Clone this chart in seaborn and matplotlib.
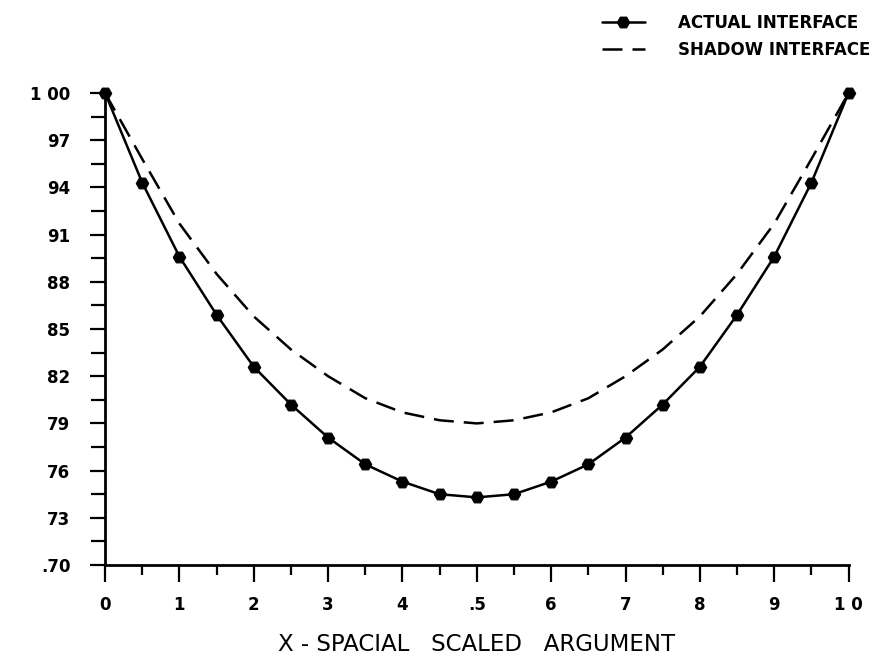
import numpy as np
import pandas as pd
import seaborn as sns
import matplotlib.pyplot as plt

# x positions (scaled argument) and the two interface curves
x_vals = [0.00, 0.05, 0.10, 0.15, 0.20, 0.25, 0.30, 0.35, 0.40, 0.45, 0.50,
          0.55, 0.60, 0.65, 0.70, 0.75, 0.80, 0.85, 0.90, 0.95, 1.00]
actual = [1.000, 0.943, 0.896, 0.859, 0.826, 0.802, 0.781, 0.764, 0.753, 0.745, 0.743,
          0.745, 0.753, 0.764, 0.781, 0.802, 0.826, 0.859, 0.896, 0.943, 1.000]
shadow = [1.000, 0.958, 0.917, 0.885, 0.858, 0.837, 0.820, 0.806, 0.797, 0.792, 0.790,
          0.792, 0.797, 0.806, 0.820, 0.837, 0.858, 0.885, 0.917, 0.958, 1.000]

y_ticks = [0.70, 0.73, 0.76, 0.79, 0.82, 0.85, 0.88, 0.91, 0.94, 0.97, 1.00]
y_labels = [".70", "73", "76", "79", "82", "85", "88", "91", "94", "97", "1 00"]
x_ticks = [0.0, 0.1, 0.2, 0.3, 0.4, 0.5, 0.6, 0.7, 0.8, 0.9, 1.0]
x_labels = ["0", "1", "2", "3", "4", ".5", "6", "7", "8", "9", "1 0"]

df = pd.DataFrame({"x": x_vals, "actual": actual, "shadow": shadow})

sns.set_style("ticks")
plt.rcParams["font.family"] = ["DejaVu Sans"]
for k in ["text.color", "axes.labelcolor", "xtick.color", "ytick.color", "axes.edgecolor"]:
    plt.rcParams[k] = "black"

fig = plt.figure(figsize=(8.83, 6.62), dpi=100)
ax = fig.add_axes([0.119, 0.1465, 0.842, 0.713])

sns.lineplot(data=df, x="x", y="shadow", ax=ax, color="black", linewidth=1.8,
             label="SHADOW INTERFACE")
ax.lines[-1].set_dashes([8, 4])
sns.lineplot(data=df, x="x", y="actual", ax=ax, color="black", linewidth=1.8,
             marker="H", markersize=9, markeredgecolor="black",
             label="ACTUAL INTERFACE")
for ln in ax.lines:
    ln.set_clip_on(False)

ax.set_xlim(0, 1.0)
ax.set_ylim(0.70, 1.00)
ax.set_xticks(x_ticks)
ax.set_xticklabels(x_labels)
ax.set_yticks(y_ticks)
ax.set_yticklabels(y_labels)
# minor ticks halfway between the labelled ones
ax.set_xticks([t + 0.05 for t in x_ticks[:-1]], minor=True)
ax.set_yticks([t + 0.015 for t in y_ticks[:-1]], minor=True)
ax.tick_params(axis="x", which="major", length=12, width=1.6, labelsize=12, pad=10)
ax.tick_params(axis="x", which="minor", length=7, width=1.6)
ax.tick_params(axis="y", which="major", length=11, width=1.6, labelsize=12, pad=14)
ax.tick_params(axis="y", which="minor", length=10, width=1.6)
for lbl in ax.get_xticklabels() + ax.get_yticklabels():
    lbl.set_fontweight("bold")

sns.despine(ax=ax)
ax.spines["left"].set_linewidth(2)
ax.spines["bottom"].set_linewidth(2)

ax.set_xlabel("X - SPACIAL   SCALED   ARGUMENT", fontsize=16.5, labelpad=14)
ax.set_ylabel("")

handles, labels = ax.get_legend_handles_labels()
leg = ax.legend(handles[::-1], labels[::-1], loc="upper right",
                bbox_to_anchor=(1.05, 1.2), frameon=False,
                prop={"weight": "bold", "size": 12}, handlelength=2.6,
                labelspacing=0.55, handletextpad=2.0)

fig.savefig("out.png", dpi=100)
